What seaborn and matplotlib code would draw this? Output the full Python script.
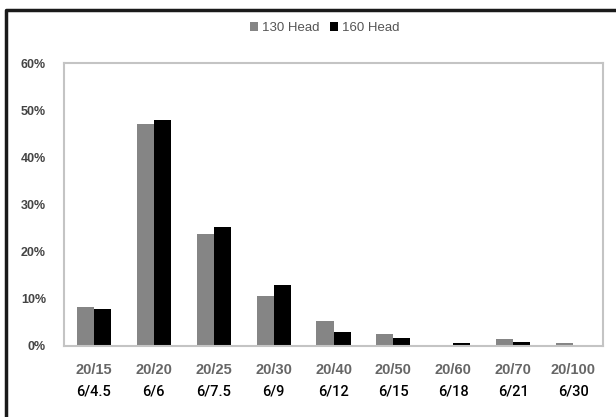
import matplotlib
matplotlib.use("Agg")
import matplotlib.pyplot as plt
import matplotlib.transforms as mtransforms
from matplotlib.lines import Line2D
from matplotlib.patches import Patch
import seaborn as sns
import pandas as pd

categories = ["20/15", "20/20", "20/25", "20/30", "20/40", "20/50", "20/60", "20/70", "20/100"]
metric_labels = ["6/4.5", "6/6", "6/7.5", "6/9", "6/12", "6/15", "6/18", "6/21", "6/30"]
head_130 = [8.3, 47.1, 23.7, 10.5, 5.3, 2.5, 0.3, 1.5, 0.6]
head_160 = [7.9, 47.9, 25.2, 13.0, 3.0, 1.8, 0.7, 0.9, 0.2]
series_names = ["130 Head", "160 Head"]
y_ticks = [0, 10, 20, 30, 40, 50, 60]

df = pd.DataFrame({
    "cat": categories * 2,
    "val": head_130 + head_160,
    "series": [series_names[0]] * len(categories) + [series_names[1]] * len(categories),
})

sns.set_theme(style="white")
plt.rcParams["font.family"] = ["Liberation Sans", "DejaVu Sans"]

fig = plt.figure(figsize=(6.16, 4.17), dpi=100)
ax = fig.add_axes([64 / 616, 1 - 346 / 417, (603 - 64) / 616, (346 - 63) / 417])

palette = {series_names[0]: "#858585", series_names[1]: "#000000"}
sns.barplot(data=df, x="cat", y="val", hue="series", order=categories,
            hue_order=series_names, palette=palette, width=0.57,
            saturation=1, legend=False, ax=ax, linewidth=0)

ax.set_ylim(0, 60)
ax.set_xlim(-0.5, len(categories) - 0.5)
ax.set_yticks(y_ticks)
ax.set_yticklabels([f"{v}%" for v in y_ticks], fontsize=9, fontweight="bold", color="#444444")
ax.set_xticks(range(len(categories)))
ax.set_xticklabels(categories, fontsize=10.5, fontweight="bold", color="#666666")
ax.tick_params(axis="x", length=0, pad=12)
ax.tick_params(axis="y", length=0, pad=13)
ax.set_xlabel("")
ax.set_ylabel("")
for s in ax.spines.values():
    s.set_color("#c4c4c4")
    s.set_linewidth(1.5)

trans = mtransforms.blended_transform_factory(ax.transData, ax.transAxes)
for i, lab in enumerate(metric_labels):
    ax.text(i, (346 - 391) / 283, lab, transform=trans, ha="center", va="center",
            fontsize=10.5, color="#000000", fontweight="medium",
            family=["Roboto", "DejaVu Sans"])

handles = [Patch(facecolor=palette[n], edgecolor="none", label=n) for n in series_names]
fig.legend(handles=handles, loc="center", bbox_to_anchor=(325 / 616, 1 - 28 / 417),
           ncol=2, frameon=False, fontsize=9.5, handlelength=0.6, handleheight=0.6,
           handletextpad=0.3, columnspacing=0.8, labelcolor="#555555")

# outer frame (top and left edges visible)
fig.add_artist(Line2D([6 / 616, 6 / 616, 1.0], [0.0, 1 - 10 / 417, 1 - 10 / 417],
                      transform=fig.transFigure, color="#1a1a1a", linewidth=2.5))

fig.savefig("out.png", dpi=100)
